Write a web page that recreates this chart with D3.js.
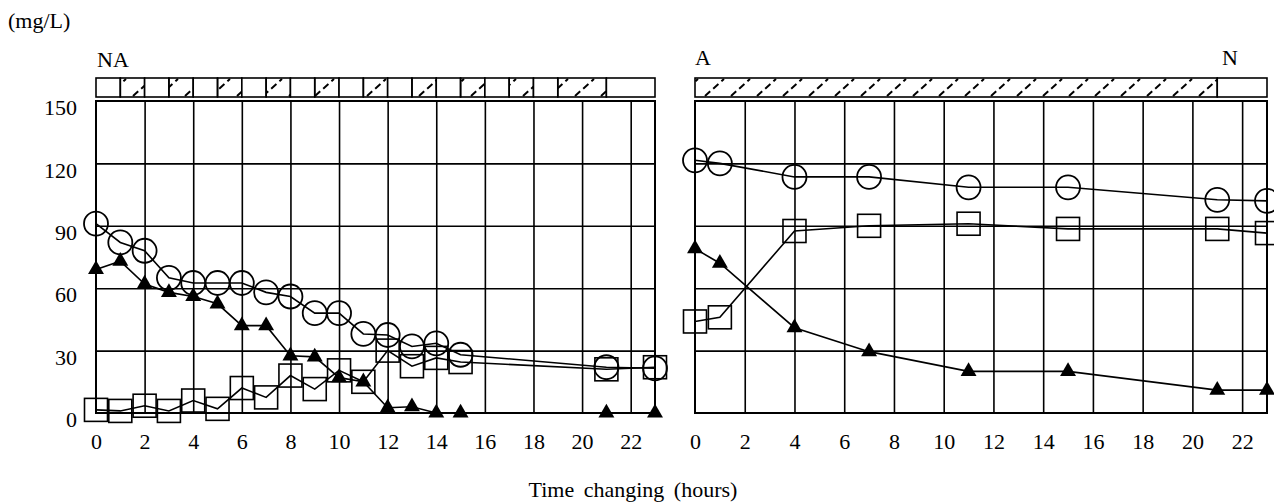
<!DOCTYPE html>
<html>
<head>
<meta charset="utf-8">
<script src="https://cdn.jsdelivr.net/npm/d3@7/dist/d3.min.js"></script>
<style>
  body { margin: 0; background: #fff; }
  text { font-family: "Liberation Serif", "Times New Roman", serif; fill: #000; }
</style>
</head>
<body>
<div id="chart"></div>
<script>
// ---- data ----
var xTicks = [0, 2, 4, 6, 8, 10, 12, 14, 16, 18, 20, 22];
var yTicks = [0, 30, 60, 90, 120, 150];

// left panel (NA)
var naTime = [0, 1, 2, 3, 4, 5, 6, 7, 8, 9, 10, 11, 12, 13, 14, 15, 21, 23];
var naCircle = [91, 82, 78, 65, 62.5, 62.5, 62.5, 58, 56, 48, 48, 38, 37.5, 32, 33.5, 28, 22, 21.5];
var naTriangle = [69, 73, 62, 58, 56, 52.5, 42, 42, 27.5, 27, 17, 15, 2.5, 3, 0, 0, 0, 0];
var naSquare = [1.5, 1, 3.5, 1, 6, 2, 12, 7.5, 18, 11.5, 20.5, 15, 30, 22.5, 26.5, 24.5, 21, 22];

// right panel (A)
var aTime = [0, 1, 4, 7, 11, 15, 21, 23];
var aCircle = [121.5, 120, 113.5, 113.5, 108.5, 108.5, 102.5, 102];
var aSquare = [44, 46, 87.5, 90, 91, 88.5, 88.5, 86.5];
var aTriangle = [79, 72, 41, 29.5, 20, 20, 11, 11];

// aeration bars: [start hour, end hour, hatched]
var naBar = [[0, 1, false], [1, 2, true], [2, 3, false], [3, 4, true], [4, 5, false],
  [5, 6, true], [6, 7, false], [7, 8, true], [8, 9, false], [9, 10, true],
  [10, 11, false], [11, 12, true], [12, 13, false], [13, 14, true], [14, 15, false],
  [15, 16, true], [16, 17, false], [17, 18, true], [18, 19, false], [19, 21, true],
  [21, 23, false]];
var aBar = [[0, 21, true], [21, 23, false]];

var W = 1274, H = 503;
var plotTop = 101, plotBottom = 413;
var barTop = 78, barBottom = 97;

var svg = d3.select("#chart").append("svg")
    .attr("width", W)
    .attr("height", H);

svg.append("rect").attr("width", W).attr("height", H).attr("fill", "#fff");

// hatch pattern for the aerated periods
var defs = svg.append("defs");
var pat = defs.append("pattern")
    .attr("id", "hatch")
    .attr("patternUnits", "userSpaceOnUse")
    .attr("x", 0).attr("y", barTop)
    .attr("width", 26)
    .attr("height", barBottom - barTop);
pat.append("line")
    .attr("x1", 3).attr("y1", barBottom - barTop - 1)
    .attr("x2", 22).attr("y2", 1)
    .attr("stroke", "#000")
    .attr("stroke-width", 2)
    .attr("stroke-dasharray", "7,4");

var y = d3.scaleLinear()
  .domain([0, 150])
  .range([plotBottom, plotTop]);

var line = function(x) {
  return d3.line()
    .x(function(d) { return x(d.t); })
    .y(function(d) { return y(d.v); });
};

function zip(ts, vs) {
  return ts.map(function(t, i) { return {t: t, v: vs[i]}; });
}

function drawPanel(x, series, bar, labelY) {
  var g = svg.append("g");
  var left = x.range()[0], right = x.range()[1];

  // bar on top
  g.selectAll(".seg")
    .data(bar)
    .enter()
    .append("rect")
    .attr("class", "seg")
    .attr("x", function(d) { return x(d[0]); })
    .attr("y", barTop)
    .attr("width", function(d) { return x(d[1]) - x(d[0]); })
    .attr("height", barBottom - barTop)
    .attr("fill", function(d) { return d[2] ? "url(#hatch)" : "#fff"; })
    .attr("stroke", "#000")
    .attr("stroke-width", 1.6);

  // grid
  g.append("g")
    .attr("transform", "translate(0," + plotBottom + ")")
    .call(d3.axisBottom(x).tickValues(xTicks.slice(1)).tickSize(-(plotBottom - plotTop)).tickFormat(""))
    .call(function(a) { a.select(".domain").remove(); })
    .selectAll("line").attr("stroke", "#000").attr("stroke-width", 1.6);

  g.append("g")
    .attr("transform", "translate(" + left + ",0)")
    .call(d3.axisLeft(y).tickValues(yTicks.slice(1, -1)).tickSize(-(right - left)).tickFormat(""))
    .call(function(a) { a.select(".domain").remove(); })
    .selectAll("line").attr("stroke", "#000").attr("stroke-width", 1.6);

  g.append("rect")
    .attr("x", left).attr("y", plotTop)
    .attr("width", right - left).attr("height", plotBottom - plotTop)
    .attr("fill", "none").attr("stroke", "#000").attr("stroke-width", 2);

  // x labels
  var xa = g.append("g")
    .attr("transform", "translate(0," + plotBottom + ")")
    .call(d3.axisBottom(x).tickValues(xTicks).tickSize(0).tickPadding(20));
  xa.select(".domain").remove();
  xa.selectAll("text")
    .attr("font-size", 22)
    .style("font-family", "Liberation Serif");

  if (labelY) {
    var ya = g.append("g")
      .attr("transform", "translate(" + (left - 19) + ",0)")
      .call(d3.axisLeft(y).tickValues(yTicks).tickSize(0).tickPadding(0));
    ya.select(".domain").remove();
    ya.selectAll("text")
      .attr("font-size", 22)
      .attr("dy", "0.62em")
      .style("font-family", "Liberation Serif");
  }

  // lines
  series.forEach(function(s) {
    g.append("path")
      .datum(s.data)
      .attr("fill", "none")
      .attr("stroke", "#000")
      .attr("stroke-width", 1.6)
      .attr("d", line(x));
  });

  // markers
  series.forEach(function(s) {
    var m = g.selectAll(".m" + s.kind + left)
      .data(s.data)
      .enter();
    if (s.kind === "circle") {
      m.append("circle")
        .attr("cx", function(d) { return x(d.t); })
        .attr("cy", function(d) { return y(d.v); })
        .attr("r", 12)
        .attr("fill", "none")
        .attr("stroke", "#000")
        .attr("stroke-width", 1.8);
    } else if (s.kind === "square") {
      m.append("rect")
        .attr("x", function(d) { return x(d.t) - 11.5; })
        .attr("y", function(d) { return y(d.v) - 11.5; })
        .attr("width", 23)
        .attr("height", 23)
        .attr("fill", "none")
        .attr("stroke", "#000")
        .attr("stroke-width", 1.6);
    } else {
      m.append("path")
        .attr("transform", function(d) { return "translate(" + x(d.t) + "," + y(d.v) + ")"; })
        .attr("d", d3.symbol().type(d3.symbolTriangle).size(110))
        .attr("fill", "#000");
    }
  });
}

var xL = d3.scaleLinear().domain([0, 23]).range([96, 655]);
var xR = d3.scaleLinear().domain([0, 23]).range([695, 1267]);

drawPanel(xL, [
  {kind: "circle", data: zip(naTime, naCircle)},
  {kind: "triangle", data: zip(naTime, naTriangle)},
  {kind: "square", data: zip(naTime, naSquare)}
], naBar, true);

drawPanel(xR, [
  {kind: "circle", data: zip(aTime, aCircle)},
  {kind: "square", data: zip(aTime, aSquare)},
  {kind: "triangle", data: zip(aTime, aTriangle)}
], aBar, false);

// texts
svg.append("text").attr("x", 8).attr("y", 28).attr("font-size", 22).text("(mg/L)");
svg.append("text").attr("x", 97).attr("y", 67).attr("font-size", 22).text("NA");
svg.append("text").attr("x", 695).attr("y", 65).attr("font-size", 22).text("A");
svg.append("text").attr("x", 1222).attr("y", 65).attr("font-size", 22).text("N");
svg.append("text")
  .attr("x", 633).attr("y", 497)
  .attr("text-anchor", "middle")
  .attr("font-size", 22)
  .attr("word-spacing", 4)
  .text("Time changing (hours)");
</script>
</body>
</html>
